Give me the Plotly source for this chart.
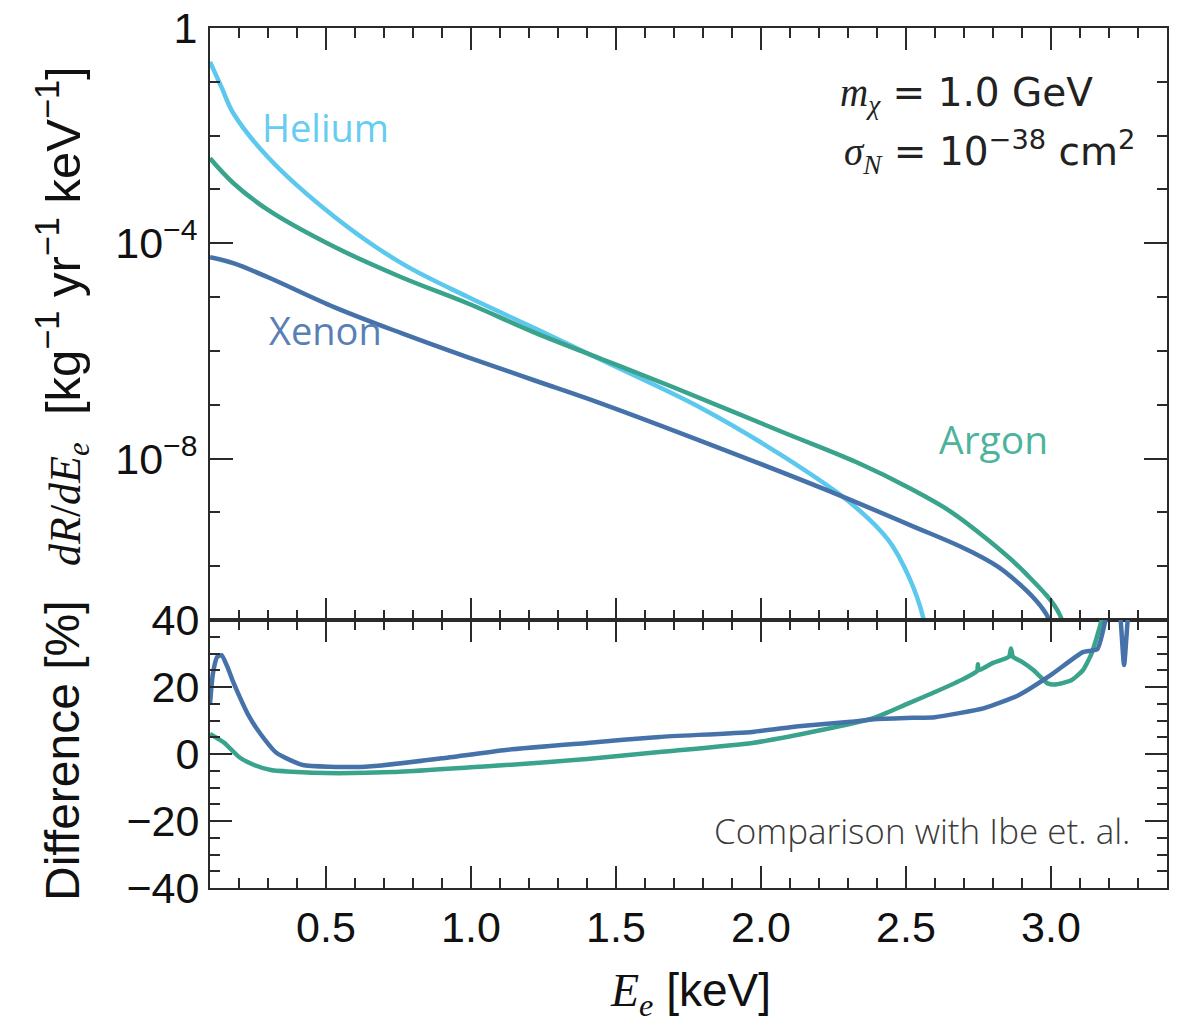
import plotly.graph_objects as go

# ---------------- data ----------------
# Top panel: dR/dE_e  [kg^-1 yr^-1 keV^-1]
he_E = [0.10, 0.14, 0.18, 0.30, 0.53, 0.76, 0.99, 1.22, 1.45, 1.79, 2.08, 2.31, 2.44, 2.51, 2.56, 2.58]
he_R = [2.34e-1, 7.9e-2, 2.63e-2, 3.98e-3, 3.09e-4, 4.27e-5, 1.00e-5, 2.63e-6, 6.76e-7,
        8.91e-8, 1.07e-8, 1.48e-9, 3.02e-10, 6.31e-11, 1.07e-11, 2.0e-12]

ar_E = [0.10, 0.18, 0.30, 0.53, 0.76, 0.99, 1.22, 1.45, 1.70, 2.08, 2.33, 2.52, 2.65, 2.78, 2.91, 3.03, 3.06]
ar_R = [3.80e-3, 1.32e-3, 4.17e-4, 8.51e-5, 2.34e-5, 7.59e-6, 2.19e-6, 7.08e-7, 2.09e-7,
        3.02e-8, 8.51e-9, 2.69e-9, 1.07e-9, 3.16e-10, 7.59e-11, 1.26e-11, 2.0e-12]

xe_E = [0.10, 0.18, 0.30, 0.53, 0.76, 0.99, 1.22, 1.45, 1.83, 2.21, 2.52, 2.72, 2.84, 2.99, 3.02]
xe_R = [5.50e-5, 4.27e-5, 2.34e-5, 6.46e-6, 2.14e-6, 7.59e-7, 2.82e-7, 1.05e-7, 1.78e-8,
        2.82e-9, 5.62e-10, 1.91e-10, 7.94e-11, 1.12e-11, 2.0e-12]

# Bottom panel: difference [%]
xe_dE = [0.10, 0.11, 0.125, 0.14, 0.16, 0.18, 0.20, 0.23, 0.27, 0.33, 0.42, 0.60, 0.68, 0.90,
         1.12, 1.40, 1.65, 1.97, 2.13, 2.31, 2.39, 2.52, 2.60, 2.77, 2.89, 3.00, 3.11, 3.16,
         3.18, 3.20, 3.215, 3.235, 3.252, 3.27, 3.29]
xe_diff = [15.0, 24.0, 29.0, 29.5, 26.0, 21.5, 17.5, 12.0, 6.5, 0.3, -3.3, -3.9, -3.5, -1.3,
           1.2, 3.3, 5.1, 6.6, 8.3, 9.6, 10.4, 10.8, 11.0, 13.7, 17.6, 23.6, 30.4, 31.3,
           37.0, 45.0, 50.0, 45.0, 26.6, 45.0, 50.0]

ar_dE = [0.10, 0.15, 0.20, 0.25, 0.31, 0.40, 0.50, 0.73, 1.12, 1.40, 1.65, 1.97, 2.20, 2.39,
         2.50, 2.60, 2.70, 2.745, 2.748, 2.751, 2.80, 2.855, 2.862, 2.869, 2.90, 2.94, 2.99,
         3.02, 3.07, 3.11, 3.14, 3.17, 3.19]
ar_diff = [6.0, 3.3, -0.9, -3.2, -4.8, -5.4, -5.7, -5.4, -3.3, -1.5, 0.6, 3.3, 7.0, 10.8,
           14.8, 18.5, 22.5, 24.8, 26.8, 25.0, 27.2, 29.0, 31.5, 29.0, 27.5, 25.0, 21.0,
           20.8, 22.0, 25.0, 30.0, 38.5, 45.0]

x_tickvals = [0.5, 1.0, 1.5, 2.0, 2.5, 3.0]
x_ticktext = ["0.5", "1.0", "1.5", "2.0", "2.5", "3.0"]
top_tickvals = [1, 1e-4, 1e-8]
top_ticktext = ["1", "10<sup>−4</sup>", "10<sup>−8</sup>"]
top_minor = [10.0 ** k for k in range(-11, 1)]
bot_tickvals = [40, 20, 0, -20, -40]
bot_ticktext = ["40", "20", "0", "−20", "−40"]

# ---------------- styling ----------------
C_HE = "#5CC8EE"
C_AR = "#3AA38C"
C_XE = "#4672AA"
AX = "#2a2a2a"
TICKFONT = dict(family="Liberation Sans, Arial, sans-serif", size=43, color="#111111")
LW = 4.5

fig = go.Figure()

for xs, ys, c in [(he_E, he_R, C_HE), (ar_E, ar_R, C_AR), (xe_E, xe_R, C_XE)]:
    fig.add_trace(go.Scatter(x=xs, y=ys, mode="lines",
                             line=dict(color=c, width=LW, shape="spline", smoothing=1.0),
                             xaxis="x", yaxis="y", showlegend=False))

for xs, ys, c in [(ar_dE, ar_diff, C_AR), (xe_dE, xe_diff, C_XE)]:
    fig.add_trace(go.Scatter(x=xs, y=ys, mode="lines",
                             line=dict(color=c, width=LW, shape="spline", smoothing=0.5),
                             xaxis="x2", yaxis="y2", showlegend=False))

L, R, T, B = 210, 17, 28, 138
W, H = 1184, 1026
ph = H - T - B
split = 268 / ph

common_x = dict(range=[0.1, 3.4], showline=True, linecolor=AX, linewidth=2, mirror="ticks",
                ticks="inside", ticklen=22, tickwidth=2, tickcolor=AX, automargin=False,
                tickvals=x_tickvals, ticktext=x_ticktext, showgrid=False, zeroline=False,
                minor=dict(dtick=0.1, tick0=0.0, ticks="inside", ticklen=10, tickwidth=2, tickcolor=AX, showgrid=False))

fig.update_layout(
    width=W, height=H,
    margin=dict(l=L, r=R, t=T, b=B, autoexpand=False),
    paper_bgcolor="white", plot_bgcolor="white",
    xaxis=dict(**common_x, domain=[0, 1], anchor="y", matches="x2", showticklabels=False),
    xaxis2=dict(**common_x, domain=[0, 1], anchor="y2", showticklabels=True, tickfont=TICKFONT,
                ticklabelstandoff=0),
    yaxis=dict(type="log", range=[-11, 0], domain=[split, 1], anchor="x", automargin=False,
               showline=True, linecolor=AX, linewidth=2, mirror="ticks",
               ticks="inside", ticklen=23, tickwidth=2, tickcolor=AX,
               tickvals=top_tickvals, ticktext=top_ticktext, tickfont=TICKFONT,
               ticklabelstandoff=2, showgrid=False, zeroline=False,
               minor=dict(tickvals=top_minor, ticks="inside", ticklen=10, tickwidth=2, tickcolor=AX, showgrid=False)),
    yaxis2=dict(range=[-40, 40], domain=[0, split], anchor="x2", automargin=False,
                showline=True, linecolor=AX, linewidth=2, mirror="ticks",
                ticks="inside", ticklen=22, tickwidth=2, tickcolor=AX,
                tickvals=bot_tickvals, ticktext=bot_ticktext, tickfont=TICKFONT,
                ticklabelstandoff=0, showgrid=False, zeroline=False,
                minor=dict(dtick=5, tick0=0, ticks="inside", ticklen=10, tickwidth=2, tickcolor=AX, showgrid=False)),
)


def px2paper_x(px):
    return (px - L) / (W - L - R)


def px2paper_y(py):
    return (H - B - py) / ph


LABFONT = "Open Sans, Lato, sans-serif"
annos = [
    dict(text="Helium", x=0.497, y=-1.84, xref="x", yref="y", showarrow=False,
         font=dict(family=LABFONT, size=38, color="#66CDF0")),
    dict(text="Xenon", x=0.497, y=-5.61, xref="x", yref="y", showarrow=False,
         font=dict(family=LABFONT, size=38, color="#5A7FB6")),
    dict(text="Argon", x=2.80, y=-7.62, xref="x", yref="y", showarrow=False,
         font=dict(family=LABFONT, size=39, color="#4DB39C")),
    dict(text="<span style='font-family:Liberation Serif'><i>m</i><sub><i>χ</i></sub></span> = 1.0 GeV",
         x=px2paper_x(838), y=px2paper_y(95), xref="paper", yref="paper", xanchor="left", yanchor="middle",
         showarrow=False, font=dict(family="DejaVu Sans, sans-serif", size=39, color="#222222")),
    dict(text="<span style='font-family:Liberation Serif'><i>σ</i><sub><i>N</i></sub></span> = 10<sup>−38</sup> cm<sup>2</sup>",
         x=px2paper_x(842), y=px2paper_y(152), xref="paper", yref="paper", xanchor="left", yanchor="middle",
         showarrow=False, font=dict(family="DejaVu Sans, sans-serif", size=39, color="#222222")),
    dict(text="Comparison with Ibe et. al.", x=px2paper_x(1132), y=px2paper_y(830),
         xref="paper", yref="paper", xanchor="right", yanchor="middle", showarrow=False,
         font=dict(family="Open Sans, sans-serif", size=35, color="#3a3a3a", weight=300)),
    dict(text="<span style='font-family:Liberation Serif;font-size:44px'><i>dR</i>/<i>dE<sub>e</sub></i></span>  [kg<sup>−1</sup> yr<sup>−1</sup> keV<sup>−1</sup>]",
         x=px2paper_x(62), y=px2paper_y(316), xref="paper", yref="paper", textangle=-90,
         xanchor="center", yanchor="middle", showarrow=False,
         font=dict(family="Liberation Sans, Arial, sans-serif", size=49, color="#111111")),
    dict(text="Difference [%]", x=px2paper_x(62), y=px2paper_y(751), xref="paper", yref="paper",
         textangle=-90, xanchor="center", yanchor="middle", showarrow=False,
         font=dict(family="Liberation Sans, Arial, sans-serif", size=48, color="#111111")),
    dict(text="<span style='font-family:Liberation Serif'><i>E<sub>e</sub></i></span> [keV]",
         x=px2paper_x(690), y=px2paper_y(994), xref="paper", yref="paper",
         xanchor="center", yanchor="middle", showarrow=False,
         font=dict(family="Liberation Sans, Arial, sans-serif", size=46, color="#111111")),
]
fig.update_layout(annotations=annos)

fig.write_html("out.html")
